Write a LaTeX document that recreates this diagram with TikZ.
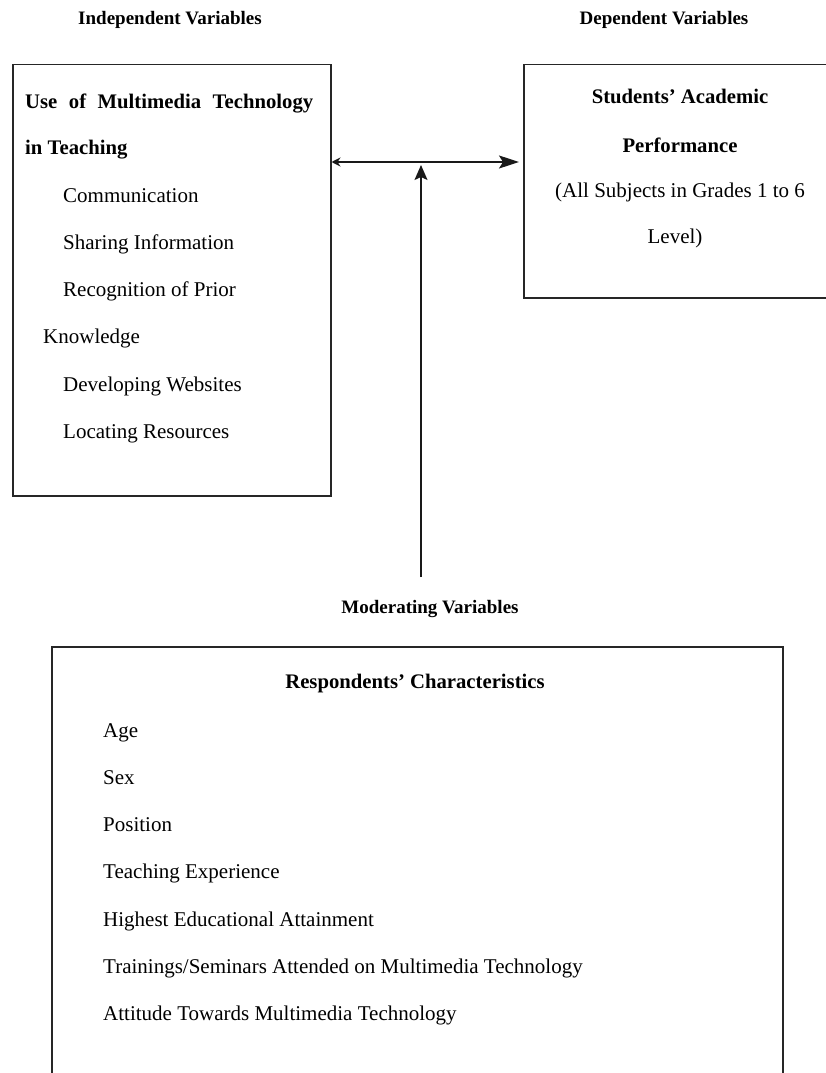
\documentclass[tikz,border=0pt]{standalone}
\usepackage{fontspec}
\setmainfont{Liberation Serif}
\usetikzlibrary{arrows.meta}
\begin{document}
\begin{tikzpicture}[x=1pt,y=-1pt,
  frame/.style={draw=black!85, line width=1.5pt, inner sep=0pt, anchor=north west},
  hdr/.style={font=\bfseries\fontsize{19}{21}\selectfont, inner sep=0pt, anchor=base},
  ttl/.style={font=\bfseries\fontsize{20.7}{22}\selectfont, inner sep=0pt},
  itm/.style={font=\fontsize{21}{23}\selectfont, inner sep=0pt, anchor=base west},
  ctr/.style={font=\fontsize{21}{23}\selectfont, inner sep=0pt, anchor=base},
  conn/.style={draw=black!90, line width=1.5pt}]
\clip (0,0) rectangle (826,1073);
\useasboundingbox (0,0) rectangle (826,1073);

% headers
\node[hdr] (hind) at (170,25) {Independent Variables};
\node[hdr] (hdep) at (664,25) {Dependent Variables};
\node[hdr] (hmod) at (430,613) {Moderating Variables};

% boxes
\node[frame, minimum width=318pt, minimum height=431pt] (indep) at (12,64) {};
\node[frame, minimum width=330pt, minimum height=233pt] (dep) at (523,64) {};
\node[frame, minimum width=731pt, minimum height=470pt] (mod) at (51,646) {};

% independent box text
\node[ttl, anchor=base west] (i1) at (25,108) {\makebox[288pt][s]{Use of Multimedia Technology}};
\node[ttl, anchor=base west] (i2) at (25,154) {in Teaching};
\node[itm] (i3) at (63,202) {Communication};
\node[itm] (i4) at (63,249) {Sharing Information};
\node[itm] (i5) at (63,296) {Recognition of Prior};
\node[itm] (i6) at (43,343) {Knowledge};
\node[itm] (i7) at (63,391) {Developing Websites};
\node[itm] (i8) at (63,438) {Locating Resources};

% dependent box text
\node[ttl, anchor=base] (d1) at (680,103) {Students’ Academic};
\node[ttl, anchor=base] (d2) at (680,152) {Performance};
\node[ctr] (d3) at (680,197) {(All Subjects in Grades 1 to 6};
\node[ctr] (d4) at (675,243) {Level)};

% moderating box text
\node[ttl, anchor=base] (m0) at (415,688) {Respondents’ Characteristics};
\node[itm] (m1) at (103,737) {Age};
\node[itm] (m2) at (103,784) {Sex};
\node[itm] (m3) at (103,831) {Position};
\node[itm] (m4) at (103,878) {Teaching Experience};
\node[itm] (m5) at (103,926) {Highest Educational Attainment};
\node[itm] (m6) at (103,973) {Trainings/Seminars Attended on Multimedia Technology};
\node[itm] (m7) at (103,1020) {Attitude Towards Multimedia Technology};

% connectors
\coordinate (hy) at (421,162);
\coordinate (vbot) at (421,577);
\draw[conn, {Stealth[length=9pt,width=9pt]}-{Stealth[length=20pt,width=13pt,inset=4pt]}, shorten >=4pt]
  (indep.east |- hy) -- (dep.west |- hy);
\draw[conn, -{Stealth[length=15pt,width=13pt,inset=3pt]}] (vbot) -- ([yshift=-3pt]hy);
\end{tikzpicture}
\end{document}
